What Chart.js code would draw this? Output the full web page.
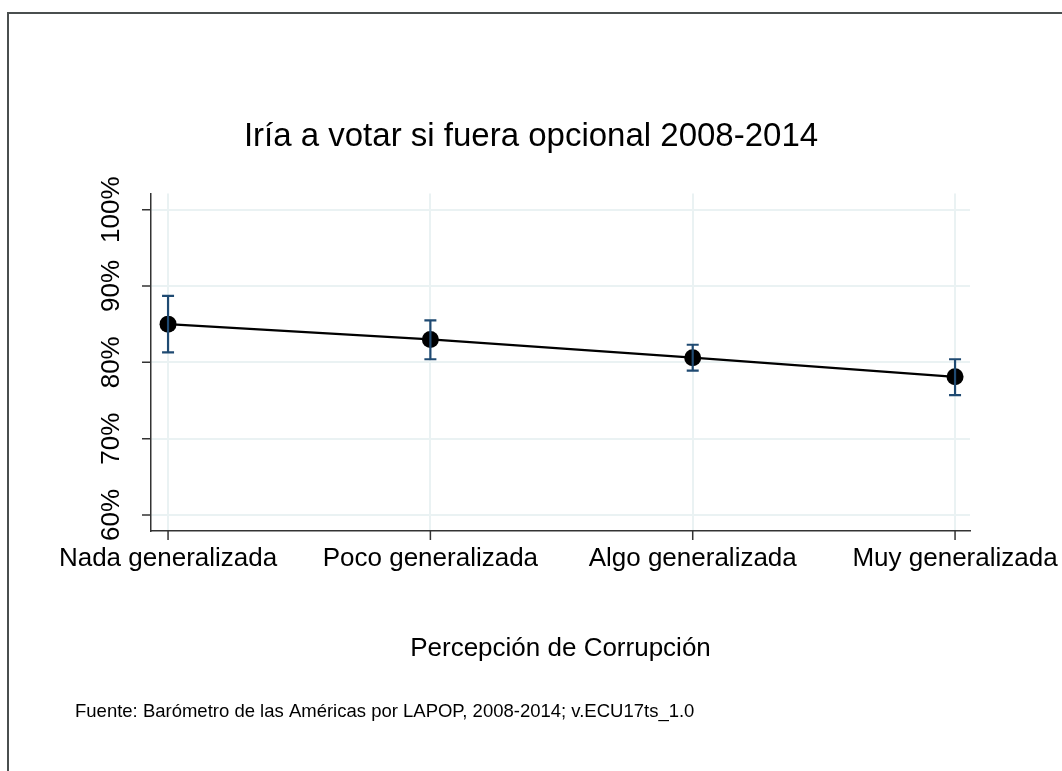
<!DOCTYPE html>
<html>
<head>
<meta charset="utf-8">
<script src="https://cdn.jsdelivr.net/npm/chart.js@4.4.1/dist/chart.umd.min.js"></script>
<style>
  html, body { margin: 0; padding: 0; background: #ffffff; }
  #wrap { width: 1062px; height: 771px; position: relative; }
</style>
</head>
<body>
<div id="wrap"><canvas id="c" width="1062" height="771"></canvas></div>
<script>
// ---- data ----
const categories = ["Nada generalizada", "Poco generalizada", "Algo generalizada", "Muy generalizada"];
const positions = [1, 2, 3, 4];
const values = [85.0, 83.0, 80.6, 78.1];
const lower = [81.3, 80.4, 78.9, 75.7];
const upper = [88.7, 85.5, 82.3, 80.4];
const yTicks = [60, 70, 80, 90, 100];
const titleText = "Iría a votar si fuera opcional 2008-2014";
const xTitleText = "Percepción de Corrupción";
const sourceText = "Fuente: Barómetro de las Américas por LAPOP, 2008-2014; v.ECU17ts_1.0";

const FONT = "'Liberation Sans', Arial, Helvetica, sans-serif";

const errorBars = {
  id: 'errorBars',
  afterDatasetsDraw(chart) {
    const ctx = chart.ctx;
    const xs = chart.scales.x, ys = chart.scales.y;
    ctx.save();
    ctx.strokeStyle = '#1f4a72';
    ctx.lineWidth = 2.2;
    for (let i = 0; i < positions.length; i++) {
      const x = xs.getPixelForValue(positions[i]);
      const yl = ys.getPixelForValue(lower[i]);
      const yu = ys.getPixelForValue(upper[i]);
      ctx.beginPath();
      ctx.moveTo(x, yl); ctx.lineTo(x, yu);
      ctx.moveTo(x - 6, yl); ctx.lineTo(x + 6, yl);
      ctx.moveTo(x - 6, yu); ctx.lineTo(x + 6, yu);
      ctx.stroke();
    }
    ctx.restore();
  }
};

const frameAndNote = {
  id: 'frameAndNote',
  afterDraw(chart) {
    const ctx = chart.ctx;
    ctx.save();
    ctx.strokeStyle = '#4a4f4f';
    ctx.lineWidth = 2;
    ctx.beginPath();
    ctx.moveTo(8, 771); ctx.lineTo(8, 13); ctx.lineTo(1062, 13);
    ctx.stroke();
    ctx.fillStyle = '#000000';
    ctx.font = "18.5px " + FONT;
    ctx.textBaseline = 'middle';
    ctx.textAlign = 'left';
    ctx.fillText(sourceText, 75, 712);
    ctx.restore();
  }
};

const tickMarks = {
  id: 'tickMarks',
  afterDraw(chart) {
    const ctx = chart.ctx, xs = chart.scales.x, ys = chart.scales.y;
    const a = chart.chartArea;
    ctx.save();
    ctx.strokeStyle = '#333333';
    ctx.lineWidth = 1.5;
    ctx.beginPath();
    xs.ticks.forEach(t => { const x = xs.getPixelForValue(t.value); ctx.moveTo(x, a.bottom); ctx.lineTo(x, a.bottom + 9); });
    ys.ticks.forEach(t => { const y = ys.getPixelForValue(t.value); ctx.moveTo(a.left, y); ctx.lineTo(a.left - 9, y); });
    ctx.stroke();
    ctx.restore();
  }
};

new Chart(document.getElementById('c'), {
  type: 'line',
  data: {
    datasets: [{
      data: positions.map((p, i) => ({ x: p, y: values[i] })),
      borderColor: '#000000',
      borderWidth: 2.2,
      backgroundColor: '#000000',
      pointBackgroundColor: '#000000',
      pointBorderColor: '#000000',
      pointRadius: 8.5,
      pointBorderWidth: 0,
      tension: 0,
      xAxisID: 'x',
      yAxisID: 'y'
    }]
  },
  options: {
    responsive: false,
    animation: false,
    devicePixelRatio: 1,
    layout: { padding: 0 },
    plugins: {
      legend: { display: false },
      tooltip: { enabled: false },
      title: {
        display: true,
        text: titleText,
        color: '#000000',
        font: { family: FONT, size: 33, weight: 'normal' },
        padding: { top: 117, bottom: 37 }
      }
    },
    scales: {
      x: {
        type: 'linear',
        position: 'bottom',
        min: 0.935,
        max: 4.057,
        afterBuildTicks(scale) { scale.ticks = positions.map(v => ({ value: v })); },
        afterFit(scale) { scale.height = 240; scale.paddingLeft = 0; scale.paddingRight = 0; },
        grid: { color: '#eaf2f3', lineWidth: 2, drawTicks: false },
        border: { display: true, color: '#333333', width: 1.5 },
        ticks: {
          color: '#000000',
          font: { family: FONT, size: 26 },
          padding: 12,
          maxRotation: 0,
          minRotation: 0,
          callback: (v) => categories[v - 1]
        },
        title: {
          display: true,
          text: xTitleText,
          color: '#000000',
          font: { family: FONT, size: 26 },
          padding: { top: 0, bottom: 107 }
        }
      },
      y: {
        type: 'linear',
        position: 'left',
        min: 57.9,
        max: 102.1,
        afterBuildTicks(scale) { scale.ticks = yTicks.map(v => ({ value: v })); },
        afterFit(scale) { scale.width = 151; scale.paddingTop = 0; scale.paddingBottom = 0; },
        grid: { color: '#eaf2f3', lineWidth: 2, drawTicks: false },
        border: { display: true, color: '#333333', width: 1.5 },
        ticks: {
          color: '#000000',
          font: { family: FONT, size: 26 },
          padding: 6,
          crossAlign: 'center',
          minRotation: 90,
          maxRotation: 90,
          callback: (v) => v + '%'
        }
      },
      yRightSpace: {
        type: 'linear',
        position: 'right',
        display: true,
        afterFit(scale) { scale.width = 92; },
        grid: { display: false, drawTicks: false },
        border: { display: false },
        ticks: { display: false }
      }
    }
  },
  plugins: [errorBars, frameAndNote, tickMarks]
});
</script>
</body>
</html>
